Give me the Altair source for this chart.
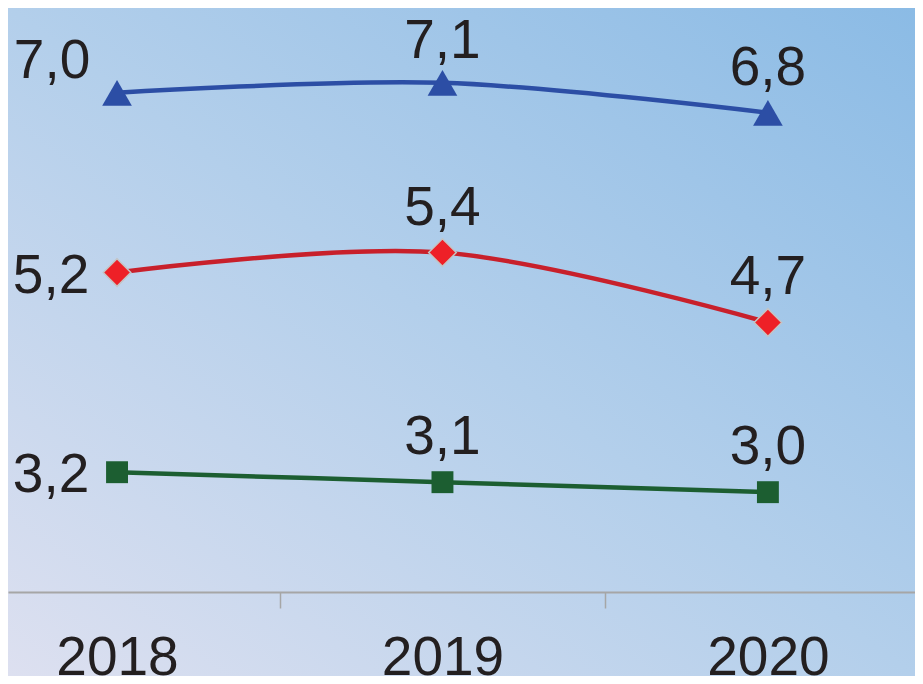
import altair as alt
import pandas as pd

years = [2018, 2019, 2020]
blue_values = [7.0, 7.1, 6.8]
red_values = [5.2, 5.4, 4.7]
green_values = [3.2, 3.1, 3.0]
axis_values = [2018, 2018.5, 2019, 2019.5, 2020]

series = {"blue": blue_values, "red": red_values, "green": green_values}
rows = []
for name, vals in series.items():
    for y, v in zip(years, vals):
        rows.append({"year": y, "series": name, "value": v})
df = pd.DataFrame(rows)

W, H, PB = 907, 584, 84
FONT = "Liberation Sans"
TXT = "#231f20"

xscale = alt.Scale(domain=[2017.665, 2020.452], nice=False, zero=False)
yscale = alt.Scale(domain=[2.0, 7.85], nice=False, zero=False)

xaxis = alt.Axis(
    values=axis_values,
    labelExpr="datum.value % 1 === 0 ? toString(datum.value) : ''",
    tickOpacity={"condition": {"test": "datum.value % 1 === 0", "value": 0}, "value": 1},
    tickSize=16, tickWidth=1.5, tickColor="#a6a6a6",
    domainColor="#a6a6a6", domainWidth=2,
    labelFont=FONT, labelFontSize=55, labelColor=TXT,
    labelBaseline="alphabetic", labelPadding=66, labelFlush=False,
    labelOverlap=False, grid=False, title=None, zindex=1,
)

base = alt.Chart(df)
X = alt.X("year:Q", scale=xscale, axis=xaxis)
Y = alt.Y("value:Q", scale=yscale, axis=None)

gradient = alt.LinearGradient(
    gradient="linear", x1=0, y1=1, x2=1, y2=0,
    stops=[alt.GradientStop(offset=0, color="#dde0f0"),
           alt.GradientStop(offset=0.5, color="#b3cfeb"),
           alt.GradientStop(offset=1, color="#8bbbe5")],
)
bg = alt.Chart(pd.DataFrame({"a": [0]})).mark_rect(fill=gradient, strokeWidth=0).encode(
    x=alt.value(0), x2=alt.value(W), y=alt.value(0), y2=alt.value(H + PB)
)

styles = {
    "blue": dict(line="#2c4ea5", shape="triangle-up", size=880, fill="#2c4ea5", stroke="#2c4ea5", sw=0),
    "red": dict(line="#c8202b", shape="diamond", size=760, fill="#ee2027", stroke="#c4c4c4", sw=1.5),
    "green": dict(line="#1c5e31", shape="square", size=480, fill="#1c5e31", stroke="#1c5e31", sw=0),
}

layers = [bg]
for name, st in styles.items():
    sub = base.transform_filter(alt.datum.series == name)
    layers.append(sub.mark_line(color=st["line"], strokeWidth=4.5, interpolate="cardinal", tension=0).encode(x=X, y=Y))
for name, st in styles.items():
    sub = base.transform_filter(alt.datum.series == name)
    layers.append(sub.mark_point(filled=True, shape=st["shape"], size=st["size"], fill=st["fill"],
                                 stroke=st["stroke"], strokeWidth=st["sw"], opacity=1).encode(x=X, y=Y))

lab = base.transform_calculate(label="replace(format(datum.value, '.1f'), '.', ',')")
txt_kw = dict(font=FONT, fontSize=55, color=TXT, align="center", baseline="alphabetic")
layers.append(lab.transform_filter("datum.year > 2018 && !(datum.year == 2019 && datum.series == 'blue')").mark_text(dy=-28, **txt_kw).encode(x=X, y=Y, text="label:N"))
layers.append(lab.transform_filter("datum.year == 2019 && datum.series == 'blue'").mark_text(dy=-25, **txt_kw).encode(x=X, y=Y, text="label:N"))
layers.append(lab.transform_filter("datum.year == 2018 && datum.series != 'blue'").mark_text(dx=-66, dy=20, **txt_kw).encode(x=X, y=Y, text="label:N"))
layers.append(lab.transform_filter("datum.year == 2018 && datum.series == 'blue'").mark_text(dx=-65, dy=-15, **txt_kw).encode(x=X, y=Y, text="label:N"))

chart = alt.layer(*layers).properties(
    width=W, height=H,
    autosize=alt.AutoSizeParams(type="none"),
    padding={"left": 0, "top": 0, "right": 0, "bottom": PB},
).configure_view(strokeWidth=0)

chart.save("out.html", embed_options={"renderer": "svg", "actions": False})
